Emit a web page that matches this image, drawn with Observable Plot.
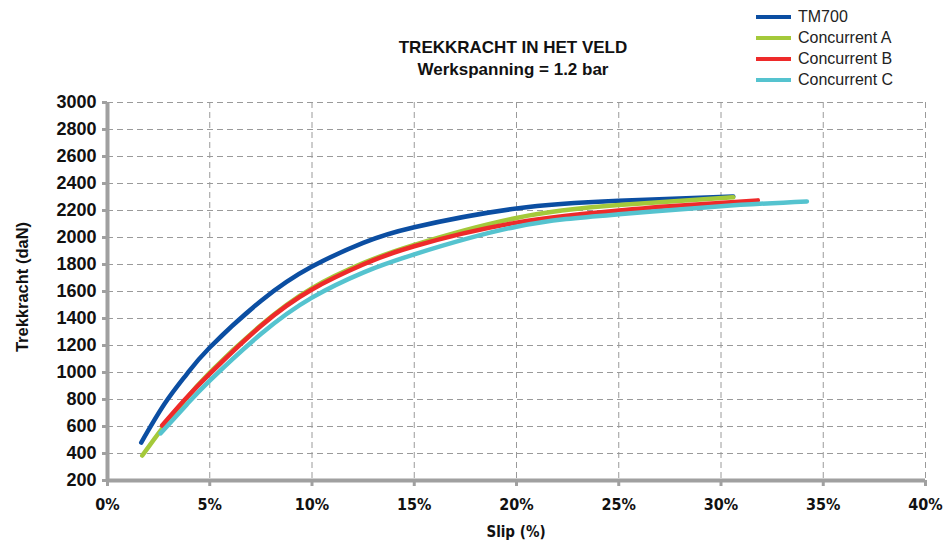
<!DOCTYPE html>
<html><head><meta charset="utf-8">
<script src="https://cdn.jsdelivr.net/npm/d3@7"></script>
<script src="https://cdn.jsdelivr.net/npm/@observablehq/plot@0.6"></script>
<style>
body{margin:0;background:#fff;}
#wrap{position:relative;width:945px;height:543px;font-family:"Liberation Sans",Arial,sans-serif;}
#title{position:absolute;left:313px;width:400px;top:37px;text-align:center;font-weight:bold;font-size:17px;line-height:22px;color:#111;}
#legend{position:absolute;left:756px;top:6px;font-size:16px;color:#222;}
#legend div{display:flex;align-items:center;height:21px;}
#legend span.sw{display:inline-block;width:35px;height:4px;margin-right:7px;}
#ylab{position:absolute;left:22px;top:287px;transform:translate(-50%,-50%) rotate(-90deg);font-weight:bold;font-size:16.5px;white-space:nowrap;color:#111;}
#xlab{position:absolute;left:516px;top:532px;transform:translate(-50%,-50%);font-weight:bold;font-size:15px;font-family:"Liberation Sans Narrow","DejaVu Sans Condensed",sans-serif;font-stretch:condensed;color:#111;}
#chart{position:absolute;left:0;top:0;}
</style></head>
<body><div id="wrap"><div id="chart"></div>
<div id="title">TREKKRACHT IN HET VELD<br>Werkspanning = 1.2 bar</div>
<div id="legend"></div>
<div id="ylab">Trekkracht (daN)</div>
<div id="xlab">Slip (%)</div>
</div>
<script>
const seriesNames = ["TM700", "Concurrent A", "Concurrent B", "Concurrent C"];
const seriesColors = ["#0b4ea2", "#a4c93a", "#ee2a2a", "#55c3cf"];

const slipTM700 = [1.65, 2.8, 3.86, 5, 7.5, 10, 12.5, 15, 20, 25, 30.6];
const forceTM700 = [481, 770, 985, 1185, 1530, 1785, 1960, 2076, 2215, 2272, 2304];

const slipA = [1.7, 2.67, 3.73, 5, 7.5, 10, 12.5, 15, 20, 25, 30.6];
const forceA = [385, 585, 785, 1000, 1350, 1625, 1810, 1945, 2145, 2240, 2298];

const slipB = [2.67, 3.73, 5, 7.5, 10, 12.5, 15, 20, 25, 27.5, 31.8];
const forceB = [607, 790, 990, 1345, 1615, 1800, 1935, 2110, 2200, 2232, 2275];

const slipC = [2.6, 3.86, 5, 7.5, 10, 12.5, 15, 20, 25, 30, 34.2];
const forceC = [550, 760, 940, 1285, 1555, 1740, 1875, 2080, 2172, 2232, 2267];

const xTicks = [0, 5, 10, 15, 20, 25, 30, 35, 40];
const yTicks = [200, 400, 600, 800, 1000, 1200, 1400, 1600, 1800, 2000, 2200, 2400, 2600, 2800, 3000];

const allSlips = [slipTM700, slipA, slipB, slipC];
const allForces = [forceTM700, forceA, forceB, forceC];
const rows = [];
seriesNames.forEach((name, i) => {
  allSlips[i].forEach((s, j) => rows.push({series: name, slip: s, force: allForces[i][j]}));
});

const gridStyle = {stroke: "#9a9a9a", strokeOpacity: 1, strokeWidth: 1, strokeDasharray: "6,4"};
const axisGray = "#a0a0a0";

const chart = Plot.plot({
  width: 945, height: 543,
  marginLeft: 107, marginRight: 20, marginTop: 102, marginBottom: 63,
  style: {fontFamily: "Liberation Sans, Arial, sans-serif", background: "#fff", color: "#111"},
  x: {domain: [0, 40], ticks: xTicks},
  y: {domain: [200, 3000], ticks: yTicks},
  color: {domain: seriesNames, range: seriesColors},
  marks: [
    Plot.gridX(xTicks.filter(d => d > 0), gridStyle),
    Plot.gridY(yTicks.filter(d => d > 200), gridStyle),
    Plot.axisY({ticks: yTicks, tickSize: 5, tickPadding: 6, stroke: axisGray, strokeWidth: 3,
      fontSize: 18, fontWeight: "bold", label: null, tickFormat: d => String(d)}),
    Plot.axisX({ticks: xTicks, tickSize: 6, tickPadding: 12, stroke: axisGray, strokeWidth: 3,
      fontSize: 16, fontWeight: "bold", tickFormat: d => d + "%", label: null,
      fontFamily: "Liberation Sans Narrow, DejaVu Sans Condensed, sans-serif"}),
    Plot.ruleX([0], {stroke: axisGray, strokeWidth: 4}),
    Plot.ruleY([200], {stroke: axisGray, strokeWidth: 4}),
    Plot.line(rows, {x: "slip", y: "force", z: "series", stroke: "series", strokeWidth: 4.5, curve: "natural"})
  ]
});
document.getElementById("chart").appendChild(chart);

const leg = document.getElementById("legend");
seriesNames.forEach((n, i) => {
  const d = document.createElement("div");
  d.innerHTML = `<span class="sw" style="background:${seriesColors[i]}"></span>${n}`;
  leg.appendChild(d);
});
</script>
</body></html>
